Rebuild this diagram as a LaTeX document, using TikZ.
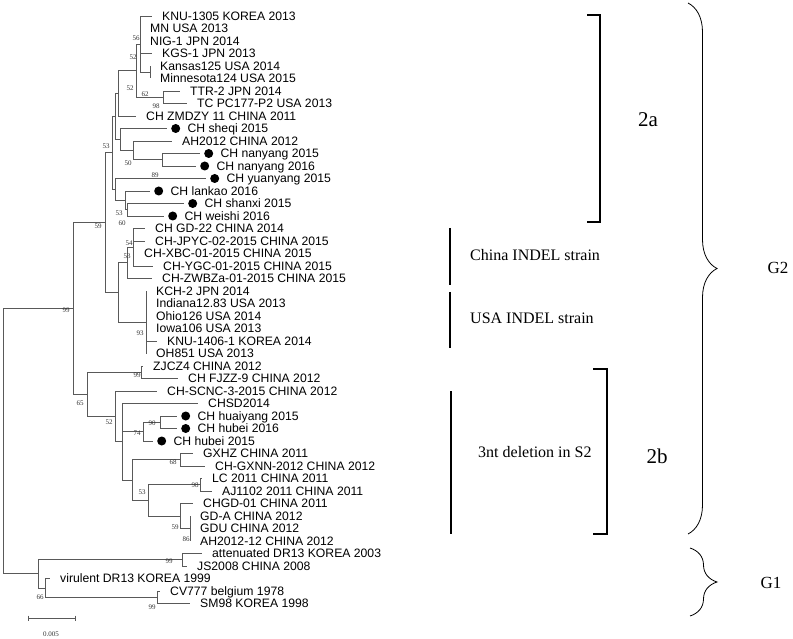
\documentclass[tikz,border=0pt]{standalone}
\usepackage{fontspec}
\setmainfont{Liberation Serif}
\setsansfont{Liberation Sans}
\usetikzlibrary{positioning,decorations.pathreplacing}

\begin{document}
\begin{tikzpicture}[x=1pt,y=-1pt,node distance=10pt,
    tree/.style={draw=black!65,line width=0.8pt,to path={|- (\tikztotarget)}},
    leaf/.style={inner sep=0pt,text height=8.8pt,text depth=0pt,font=\sffamily\fontsize{12.2}{14}\selectfont},
    spot/.style={circle,fill=black,inner sep=0pt,minimum size=9pt},
    boot/.style={inner sep=0pt,text=black!80,font=\fontsize{7}{8}\selectfont},
    clade/.style={line width=2.6pt},
    grp/.style={inner sep=0pt,anchor=west,font=\fontsize{16}{18}\selectfont},
    sub/.style={inner sep=0pt,font=\fontsize{21}{24}\selectfont},
    gen/.style={inner sep=0pt,font=\fontsize{17}{20}\selectfont},
    brc/.style={decorate,line width=0.8pt}]
\useasboundingbox (0,0) rectangle (793,639);

% leaf tips
\coordinate (knu1305-t) at (152,16);
\coordinate (mn-t)      at (140,28.5);
\coordinate (nig1-t)    at (140,41);
\coordinate (kgs1-t)    at (152,53.5);
\coordinate (kansas-t)  at (150,66);
\coordinate (minn-t)    at (150,78.5);
\coordinate (ttr2-t)    at (180,91);
\coordinate (tcpc-t)    at (187,103.5);
\coordinate (zmdzy-t)   at (136,116);
\coordinate (sheqi-t)   at (167,128.5);
\coordinate (ah2012-t)  at (172,141);
\coordinate (ny15-t)    at (200,153.5);
\coordinate (ny16-t)    at (196,166);
\coordinate (yuany-t)   at (206,178.5);
\coordinate (lankao-t)  at (150,191);
\coordinate (shanxi-t)  at (184,203.5);
\coordinate (weishi-t)  at (164,216);
\coordinate (gd22-t)    at (145,228.5);
\coordinate (jpyc-t)    at (145,241);
\coordinate (xbc-t)     at (134,253.5);
\coordinate (ygc-t)     at (153,266);
\coordinate (zwbza-t)   at (152,278.5);
\coordinate (kch2-t)    at (146,291);
\coordinate (indiana-t) at (146,303.5);
\coordinate (ohio-t)    at (146,316);
\coordinate (iowa-t)    at (146,328.5);
\coordinate (knu1406-t) at (157,341);
\coordinate (oh851-t)   at (146,353.5);
\coordinate (zjcz4-t)   at (143,366);
\coordinate (fjzz9-t)   at (178,378.5);
\coordinate (scnc3-t)   at (157,391);
\coordinate (chsd-t)    at (198,403.5);
\coordinate (huaiy-t)   at (177,416);
\coordinate (hubei16-t) at (177,428.5);
\coordinate (hubei15-t) at (153,441);
\coordinate (gxhz-t)    at (193,453.5);
\coordinate (gxnn-t)    at (205,466);
\coordinate (lc-t)      at (202,478.5);
\coordinate (aj1102-t)  at (212,491);
\coordinate (chgd-t)    at (193,503.5);
\coordinate (gda-t)     at (190,516);
\coordinate (gdu-t)     at (190,528.5);
\coordinate (ah1212-t)  at (190,541);
\coordinate (attdr-t)   at (202,553.5);
\coordinate (js2008-t)  at (187,566);
\coordinate (virdr-t)   at (50,578.5);
\coordinate (cv777-t)   at (160,591);
\coordinate (sm98-t)    at (190,603.5);

% leaf labels
\node[leaf, right=of knu1305-t] (knu1305) {KNU-1305 KOREA 2013};
\node[leaf, right=of mn-t]      (mn)      {MN USA 2013};
\node[leaf, right=of nig1-t]    (nig1)    {NIG-1 JPN 2014};
\node[leaf, right=of kgs1-t]    (kgs1)    {KGS-1 JPN 2013};
\node[leaf, right=of kansas-t]  (kansas)  {Kansas125 USA 2014};
\node[leaf, right=of minn-t]    (minn)    {Minnesota124 USA 2015};
\node[leaf, right=of ttr2-t]    (ttr2)    {TTR-2 JPN 2014};
\node[leaf, right=of tcpc-t]    (tcpc)    {TC PC177-P2 USA 2013};
\node[leaf, right=of zmdzy-t]   (zmdzy)   {CH ZMDZY 11 CHINA 2011};
\node[spot, right=4pt of sheqi-t] (sheqi-s) {};
\node[leaf, right=7pt of sheqi-s] (sheqi) {CH sheqi 2015};
\node[leaf, right=of ah2012-t]  (ah2012)  {AH2012 CHINA 2012};
\node[spot, right=4pt of ny15-t] (ny15-s) {};
\node[leaf, right=7pt of ny15-s] (ny15) {CH nanyang 2015};
\node[spot, right=4pt of ny16-t] (ny16-s) {};
\node[leaf, right=7pt of ny16-s] (ny16) {CH nanyang 2016};
\node[spot, right=4pt of yuany-t] (yuany-s) {};
\node[leaf, right=7pt of yuany-s] (yuany) {CH yuanyang 2015};
\node[spot, right=4pt of lankao-t] (lankao-s) {};
\node[leaf, right=7pt of lankao-s] (lankao) {CH lankao 2016};
\node[spot, right=4pt of shanxi-t] (shanxi-s) {};
\node[leaf, right=7pt of shanxi-s] (shanxi) {CH shanxi 2015};
\node[spot, right=4pt of weishi-t] (weishi-s) {};
\node[leaf, right=7pt of weishi-s] (weishi) {CH weishi 2016};
\node[leaf, right=of gd22-t]    (gd22)    {CH GD-22 CHINA 2014};
\node[leaf, right=of jpyc-t]    (jpyc)    {CH-JPYC-02-2015 CHINA 2015};
\node[leaf, right=of xbc-t]     (xbc)     {CH-XBC-01-2015 CHINA 2015};
\node[leaf, right=of ygc-t]     (ygc)     {CH-YGC-01-2015 CHINA 2015};
\node[leaf, right=of zwbza-t]   (zwbza)   {CH-ZWBZa-01-2015 CHINA 2015};
\node[leaf, right=of kch2-t]    (kch2)    {KCH-2 JPN 2014};
\node[leaf, right=of indiana-t] (indiana) {Indiana12.83 USA 2013};
\node[leaf, right=of ohio-t]    (ohio)    {Ohio126 USA 2014};
\node[leaf, right=of iowa-t]    (iowa)    {Iowa106 USA 2013};
\node[leaf, right=of knu1406-t] (knu1406) {KNU-1406-1 KOREA 2014};
\node[leaf, right=of oh851-t]   (oh851)   {OH851 USA 2013};
\node[leaf, right=of zjcz4-t]   (zjcz4)   {ZJCZ4 CHINA 2012};
\node[leaf, right=of fjzz9-t]   (fjzz9)   {CH FJZZ-9 CHINA 2012};
\node[leaf, right=of scnc3-t]   (scnc3)   {CH-SCNC-3-2015 CHINA 2012};
\node[leaf, right=of chsd-t]    (chsd)    {CHSD2014};
\node[spot, right=4pt of huaiy-t] (huaiy-s) {};
\node[leaf, right=7pt of huaiy-s] (huaiy) {CH huaiyang 2015};
\node[spot, right=4pt of hubei16-t] (hubei16-s) {};
\node[leaf, right=7pt of hubei16-s] (hubei16) {CH hubei 2016};
\node[spot, right=4pt of hubei15-t] (hubei15-s) {};
\node[leaf, right=7pt of hubei15-s] (hubei15) {CH hubei 2015};
\node[leaf, right=of gxhz-t]    (gxhz)    {GXHZ CHINA 2011};
\node[leaf, right=of gxnn-t]    (gxnn)    {CH-GXNN-2012 CHINA 2012};
\node[leaf, right=of lc-t]      (lc)      {LC 2011 CHINA 2011};
\node[leaf, right=of aj1102-t]  (aj1102)  {AJ1102 2011 CHINA 2011};
\node[leaf, right=of chgd-t]    (chgd)    {CHGD-01 CHINA 2011};
\node[leaf, right=of gda-t]     (gda)     {GD-A CHINA 2012};
\node[leaf, right=of gdu-t]     (gdu)     {GDU CHINA 2012};
\node[leaf, right=of ah1212-t]  (ah1212)  {AH2012-12 CHINA 2012};
\node[leaf, right=of attdr-t]   (attdr)   {attenuated DR13 KOREA 2003};
\node[leaf, right=of js2008-t]  (js2008)  {JS2008 CHINA 2008};
\node[leaf, right=of virdr-t]   (virdr)   {virulent DR13 KOREA 1999};
\node[leaf, right=of cv777-t]   (cv777)   {CV777 belgium 1978};
\node[leaf, right=of sm98-t]    (sm98)    {SM98 KOREA 1998};

% inner nodes
\coordinate (nKM)  at (150,72.25);
\coordinate (nA)   at (140,44);
\coordinate (nTT)  at (163,97.25);
\coordinate (nB)   at (136,70.6);
\coordinate (nC)   at (118,93.3);
\coordinate (nNY)  at (162,159.75);
\coordinate (nAH)  at (133,150.4);
\coordinate (nSH)  at (120,139.4);
\coordinate (nU)   at (115,116.4);
\coordinate (nSW)  at (127,209.75);
\coordinate (nLk)  at (125,200.4);
\coordinate (nLo)  at (115,189.4);
\coordinate (n53a) at (112,152.9);
\coordinate (nGD)  at (133,247.25);
\coordinate (nCI)  at (127,262.9);
\coordinate (nUSA) at (146,322.25);
\coordinate (nIND) at (118,292.6);
\coordinate (n59)  at (105,222.75);
\coordinate (n99)  at (141,372.25);
\coordinate (n90)  at (160,422.25);
\coordinate (n74)  at (143,431.6);
\coordinate (n68)  at (180,459.75);
\coordinate (n98)  at (200,484.75);
\coordinate (n86)  at (190,528.5);
\coordinate (n59b) at (180,516);
\coordinate (n53)  at (148,500.4);
\coordinate (nM)   at (132,480.1);
\coordinate (nL)   at (122,441.8);
\coordinate (n52)  at (115,416.4);
\coordinate (n65)  at (87,394.3);
\coordinate (nG2)  at (73,308.5);
\coordinate (n99b) at (182,559.75);
\coordinate (nCS)  at (157,597.25);
\coordinate (n66)  at (45,587.9);
\coordinate (nG1)  at (38,573.8);
\coordinate (root) at (3,441);

\path[tree]
  (nKM) edge (kansas-t) (nKM) edge (minn-t)
  (nA) edge (knu1305-t) (nA) edge (mn-t) (nA) edge (nig1-t) (nA) edge (kgs1-t) (nA) edge (nKM)
  (nTT) edge (ttr2-t) (nTT) edge (tcpc-t)
  (nB) edge (nA) (nB) edge (nTT)
  (nC) edge (nB) (nC) edge (zmdzy-t)
  (nNY) edge (ny15-t) (nNY) edge (ny16-t)
  (nAH) edge (ah2012-t) (nAH) edge (nNY)
  (nSH) edge (sheqi-t) (nSH) edge (nAH)
  (nU) edge (nC) (nU) edge (nSH)
  (nSW) edge (shanxi-t) (nSW) edge (weishi-t)
  (nLk) edge (lankao-t) (nLk) edge (nSW)
  (nLo) edge (yuany-t) (nLo) edge (nLk)
  (n53a) edge (nU) (n53a) edge (nLo)
  (nGD) edge (gd22-t) (nGD) edge (jpyc-t) (nGD) edge (xbc-t) (nGD) edge (ygc-t)
  (nCI) edge (nGD) (nCI) edge (zwbza-t)
  (nUSA) edge (kch2-t) (nUSA) edge (indiana-t) (nUSA) edge (ohio-t)
  (nUSA) edge (iowa-t) (nUSA) edge (knu1406-t) (nUSA) edge (oh851-t)
  (nIND) edge (nCI) (nIND) edge (nUSA)
  (n59) edge (n53a) (n59) edge (nIND)
  (n99) edge (zjcz4-t) (n99) edge (fjzz9-t)
  (n90) edge (huaiy-t) (n90) edge (hubei16-t)
  (n74) edge (n90) (n74) edge (hubei15-t)
  (n68) edge (gxhz-t) (n68) edge (gxnn-t)
  (n98) edge (lc-t) (n98) edge (aj1102-t)
  (n86) edge (gda-t) (n86) edge (gdu-t) (n86) edge (ah1212-t)
  (n59b) edge (chgd-t) (n59b) edge (n86)
  (n53) edge (n98) (n53) edge (n59b)
  (nM) edge (n68) (nM) edge (n53)
  (nL) edge (chsd-t) (nL) edge (n74) (nL) edge (nM)
  (n52) edge (scnc3-t) (n52) edge (nL)
  (n65) edge (n99) (n65) edge (n52)
  (nG2) edge (n59) (nG2) edge (n65)
  (n99b) edge (attdr-t) (n99b) edge (js2008-t)
  (nCS) edge (cv777-t) (nCS) edge (sm98-t)
  (n66) edge (virdr-t) (n66) edge (nCS)
  (nG1) edge (n99b) (nG1) edge (n66)
  (root) edge (nG2) (root) edge (nG1);

% bootstrap values
\node[boot] (bs56)  at (136,38)  {56};
\node[boot] (bs52a) at (133,57)  {52};
\node[boot] (bs52b) at (130,88)  {52};
\node[boot] (bs62)  at (145,94)  {62};
\node[boot] (bs98a) at (156,106) {98};
\node[boot] (bs53a) at (106,146) {53};
\node[boot] (bs50)  at (128,163) {50};
\node[boot] (bs89)  at (155,175) {89};
\node[boot] (bs53b) at (119,213) {53};
\node[boot] (bs60)  at (122,223) {60};
\node[boot] (bs59a) at (98,226)  {59};
\node[boot] (bs54)  at (129,243) {54};
\node[boot] (bs53c) at (127,256) {53};
\node[boot] (bs99a) at (66,310)  {99};
\node[boot] (bs93)  at (140,333) {93};
\node[boot] (bs99b) at (137,375) {99};
\node[boot] (bs65)  at (80,403)  {65};
\node[boot] (bs52c) at (109,422) {52};
\node[boot] (bs90)  at (152,423) {90};
\node[boot] (bs74)  at (137,433) {74};
\node[boot] (bs68)  at (173,462) {68};
\node[boot] (bs98b) at (195,485) {98};
\node[boot] (bs53d) at (142,492) {53};
\node[boot] (bs59b) at (175,527) {59};
\node[boot] (bs86)  at (186,539) {86};
\node[boot] (bs99c) at (169,561) {99};
\node[boot] (bs66)  at (40,597)  {66};
\node[boot] (bs99d) at (152,607) {99};

% scale bar
\coordinate (sc-l) at (28,618);
\coordinate (sc-r) at (75,618);
\draw[black!65,line width=0.8pt] (sc-l) -- (sc-r)
  (sc-l) ++(0,-2.5) -- ++(0,5) (sc-r) ++(0,-2.5) -- ++(0,5);
\node[boot] (scale) at (51,634) {0.005};

% clades
\coordinate (c2a-t) at (587,15);
\coordinate (c2a-b) at (587,222);
\draw[clade] (c2a-t) -- +(13,0) |- (c2a-b);
\node[sub] (l2a) at (648,120) {2a};

\coordinate (china-t) at (450,228);
\coordinate (china-b) at (450,285);
\draw[clade] (china-t) -- (china-b);
\node[grp] (lchina) at (470,255) {China INDEL strain};

\coordinate (usa-t) at (450,292);
\coordinate (usa-b) at (450,348);
\draw[clade] (usa-t) -- (usa-b);
\node[grp] (lusa) at (470,318) {USA INDEL strain};

\coordinate (del-t) at (451,391);
\coordinate (del-b) at (451,534);
\draw[clade] (del-t) -- (del-b);
\node[grp] (ldel) at (478,452) {3nt deletion in S2};

\coordinate (c2b-t) at (593,369);
\coordinate (c2b-b) at (593,534);
\draw[clade] (c2b-t) -- +(14,0) |- (c2b-b);
\node[sub] (l2b) at (657,456) {2b};

\coordinate (g2-t) at (688,3);
\coordinate (g2-b) at (688,534);
\draw[brc,decoration={brace,amplitude=29pt}] (g2-t) -- (g2-b);
\node[gen] (lg2) at (778,268) {G2};

\coordinate (g1-t) at (690,548);
\coordinate (g1-b) at (690,616);
\draw[brc,decoration={brace,amplitude=27pt}] (g1-t) -- (g1-b);
\node[gen] (lg1) at (771,583) {G1};
\end{tikzpicture}
\end{document}
